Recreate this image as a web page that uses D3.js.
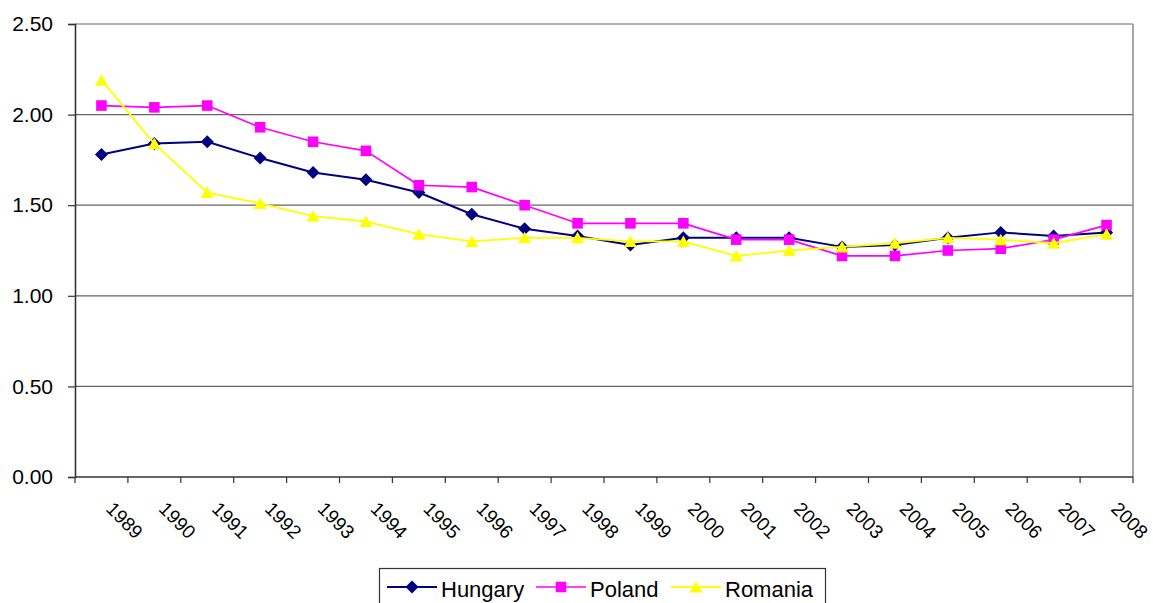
<!DOCTYPE html>
<html>
<head>
<meta charset="utf-8">
<script src="https://cdn.jsdelivr.net/npm/d3@7"></script>
<style>
  html, body { margin: 0; padding: 0; background: #fff; }
  svg { display: block; font-family: "Liberation Sans", Arial, sans-serif; }
</style>
</head>
<body>
<svg id="chart" width="1153" height="603"></svg>
<script>
// Total fertility rate, 1989-2008
const years = [1989, 1990, 1991, 1992, 1993, 1994, 1995, 1996, 1997, 1998,
               1999, 2000, 2001, 2002, 2003, 2004, 2005, 2006, 2007, 2008];
const hungary = [1.78, 1.84, 1.85, 1.76, 1.68, 1.64, 1.57, 1.45, 1.37, 1.33,
                 1.28, 1.32, 1.32, 1.32, 1.27, 1.28, 1.32, 1.35, 1.33, 1.35];
const poland  = [2.05, 2.04, 2.05, 1.93, 1.85, 1.80, 1.61, 1.60, 1.50, 1.40,
                 1.40, 1.40, 1.31, 1.31, 1.22, 1.22, 1.25, 1.26, 1.31, 1.39];
const romania = [2.19, 1.84, 1.57, 1.51, 1.44, 1.41, 1.34, 1.30, 1.32, 1.32,
                 1.30, 1.30, 1.22, 1.25, 1.27, 1.29, 1.32, 1.31, 1.29, 1.34];
const yTicks = [0, 0.5, 1.0, 1.5, 2.0, 2.5];

const series = [
  { name: "Hungary", values: hungary, color: "#000080", marker: "diamond", width: 2 },
  { name: "Poland",  values: poland,  color: "#ff00ff", marker: "square",  width: 1.7 },
  { name: "Romania", values: romania, color: "#ffff00", marker: "triangle", width: 1.8 }
];

const svg = d3.select("#chart");
const plotLeft = 75, plotRight = 1133, plotTop = 24, plotBottom = 477;

const x = d3.scaleBand().domain(years).range([plotLeft, plotRight]).padding(0);
const y = d3.scaleLinear().domain([0, 2.5]).range([plotBottom, plotTop]);
const cx = d => x(d) + x.bandwidth() / 2;

// horizontal gridlines
svg.append("g").selectAll("line").data(yTicks.filter(v => v > 0)).join("line")
  .attr("x1", plotLeft).attr("x2", plotRight)
  .attr("y1", d => y(d)).attr("y2", d => y(d))
  .attr("stroke", "#666").attr("stroke-width", 1.2);

// right edge of plot area
svg.append("line")
  .attr("x1", plotRight).attr("x2", plotRight).attr("y1", plotTop).attr("y2", plotBottom)
  .attr("stroke", "#8a8a8a").attr("stroke-width", 1.5);

// y axis
const yAxis = svg.append("g").attr("transform", `translate(${plotLeft},0)`)
  .call(d3.axisLeft(y).tickValues(yTicks).tickFormat(d3.format(".2f")).tickSize(7).tickPadding(15));
yAxis.select(".domain").attr("stroke", "#333").attr("stroke-width", 1.6);
yAxis.selectAll(".tick line").attr("stroke", "#333").attr("stroke-width", 1.2);
yAxis.selectAll(".tick text")
  .attr("font-size", 21).attr("fill", "#000")
  .attr("font-family", "'Liberation Sans', Arial, sans-serif");

// x axis: labels at band centres, tick marks at band boundaries
const xAxis = svg.append("g").attr("transform", `translate(0,${plotBottom})`)
  .call(d3.axisBottom(x).tickSize(0).tickPadding(0));
xAxis.select(".domain").remove();
xAxis.selectAll(".tick text")
  .attr("font-size", 19).attr("fill", "#000")
  .attr("font-family", "'Liberation Sans', Arial, sans-serif")
  .attr("text-anchor", "start")
  .attr("dy", null).attr("y", 0).attr("x", 0)
  .attr("transform", "translate(3.5,33) rotate(45)");

const boundaries = years.map(d => x(d)).concat([plotRight]);
svg.append("g").selectAll("line").data(boundaries).join("line")
  .attr("x1", d => d).attr("x2", d => d)
  .attr("y1", plotBottom).attr("y2", plotBottom + 6)
  .attr("stroke", "#333").attr("stroke-width", 1.2);
svg.append("line")
  .attr("x1", plotLeft).attr("x2", plotRight).attr("y1", plotBottom).attr("y2", plotBottom)
  .attr("stroke", "#333").attr("stroke-width", 1.6);

// marker shapes
function markerPath(type) {
  if (type === "diamond") return "M0,-6.5L6.5,0L0,6.5L-6.5,0Z";
  if (type === "square") return "M-5.3,-5.3H5.3V5.3H-5.3Z";
  return "M0,-6L6.5,5.5H-6.5Z";
}

const line = d3.line().x((d, i) => cx(years[i])).y(d => y(d));

series.forEach(s => {
  const g = svg.append("g");
  g.append("path").datum(s.values)
    .attr("d", line).attr("fill", "none")
    .attr("stroke", s.color).attr("stroke-width", s.width)
    .attr("stroke-linejoin", "round");
  g.selectAll("path.mk").data(s.values).join("path").attr("class", "mk")
    .attr("d", markerPath(s.marker))
    .attr("transform", (d, i) => `translate(${cx(years[i])},${y(d)})`)
    .attr("fill", s.color);
});

// legend
const legend = svg.append("g");
legend.append("rect")
  .attr("x", 379.5).attr("y", 568.5).attr("width", 446).attr("height", 50)
  .attr("fill", "#fff").attr("stroke", "#333").attr("stroke-width", 1.2);
const legendX = [387, 536, 671];
series.forEach((s, i) => {
  const g = legend.append("g").attr("transform", `translate(${legendX[i]},587)`);
  g.append("line").attr("x1", 0).attr("x2", 50).attr("y1", 0).attr("y2", 0)
    .attr("stroke", s.color).attr("stroke-width", s.width);
  g.append("path").attr("d", markerPath(s.marker)).attr("transform", "translate(25,0)")
    .attr("fill", s.color);
  g.append("text").attr("x", 54).attr("y", 9.5)
    .attr("font-size", 22).attr("fill", "#000").text(s.name);
});
</script>
</body>
</html>
